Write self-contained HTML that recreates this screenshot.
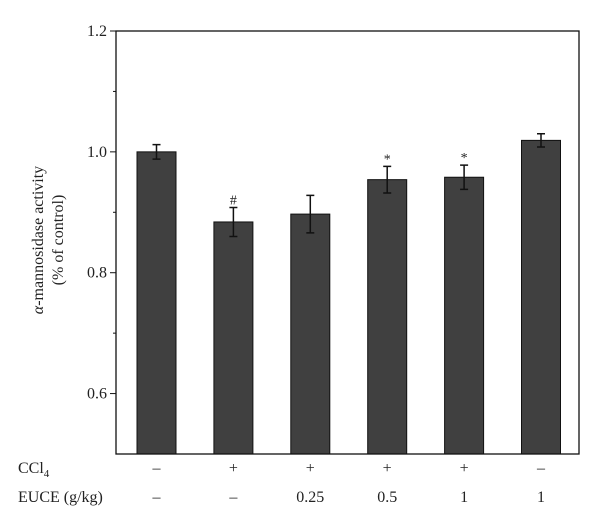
<!DOCTYPE html>
<html><head><meta charset="utf-8"><style>
html,body{margin:0;padding:0;background:#fff;}
svg{display:block;font-family:"Liberation Serif",serif;}
</style></head><body>
<svg id="chart" width="600" height="528" viewBox="0 0 600 528" xmlns="http://www.w3.org/2000/svg">
<g id="plot"></g>
<text transform="translate(43,240) rotate(-90)" text-anchor="middle" font-size="16" fill="#222"><tspan font-style="italic">α</tspan>-mannosidase activity</text>
<text transform="translate(63,240) rotate(-90)" text-anchor="middle" font-size="16" fill="#222">(% of control)</text>
<text x="18" y="473" font-size="16" fill="#222">CCl<tspan font-size="11" dy="4">4</tspan></text>
<text x="18" y="502" font-size="16" fill="#222">EUCE (g/kg)</text>
</svg>
<script>
const categories=["1","2","3","4","5","6"];
const values=[1.0,0.884,0.897,0.954,0.958,1.019];
const errors=[0.012,0.024,0.031,0.022,0.020,0.011];
const marks=["","#","","*","*",""];
const ccl4=["–","+","+","+","+","–"];
const euce=["–","–","0.25","0.5","1","1"];
const yTicks=[0.6,0.8,1.0,1.2];
const yTickLabels=["0.6","0.8","1.0","1.2"];
const yMinor=[0.7,0.9,1.1];
const L=116,R=579,T=31,B=454,ymin=0.5,ymax=1.2;
const y=v=>B-(v-ymin)/(ymax-ymin)*(B-T);
const xc=i=>156.5+i*76.9;
const g=document.getElementById('plot');
const NS="http://www.w3.org/2000/svg";
function mk(t,a){const e=document.createElementNS(NS,t);for(const k in a)e.setAttribute(k,a[k]);g.appendChild(e);return e;}
values.forEach((v,i)=>{
 const bw=39;
 const b=mk('rect',{x:xc(i)-bw/2,y:y(v),width:bw,height:B-y(v),fill:'#404040',stroke:'#111','stroke-width':1});
 
 
 const e=errors[i],cx=xc(i);
 const p=mk('path',{d:`M${cx},${y(v+e)}V${y(v-e)}M${cx-4},${y(v+e)}H${cx+4}M${cx-4},${y(v-e)}H${cx+4}`,stroke:'#111','stroke-width':1.5,fill:'none'});
 
 
 if(marks[i]){const t=mk('text',{x:cx,y:y(v+e)-3,'text-anchor':'middle','font-size':14,fill:'#222'});t.textContent=marks[i];
 
 }
 const c=mk('text',{x:cx,y:473,'text-anchor':'middle','font-size':16,fill:'#222'});c.textContent=ccl4[i];
 
 
 const u=mk('text',{x:cx,y:502,'text-anchor':'middle','font-size':16,fill:'#222'});u.textContent=euce[i];
 
 
});
yTicks.forEach((v,i)=>{
 const t=mk('line',{x1:L-6,x2:L,y1:y(v),y2:y(v),stroke:'#111','stroke-width':1});
 
 
 const l=mk('text',{x:L-9,y:y(v)+5,'text-anchor':'end','font-size':16,fill:'#222'});l.textContent=yTickLabels[i];
 
 
});
yMinor.forEach(v=>{
 const t=mk('line',{x1:L-3,x2:L,y1:y(v),y2:y(v),stroke:'#111','stroke-width':1});
 
 
});
const f=mk('rect',{x:L,y:T,width:R-L,height:B-T,fill:'none',stroke:'#111','stroke-width':1.3});


</script>
</body></html>
